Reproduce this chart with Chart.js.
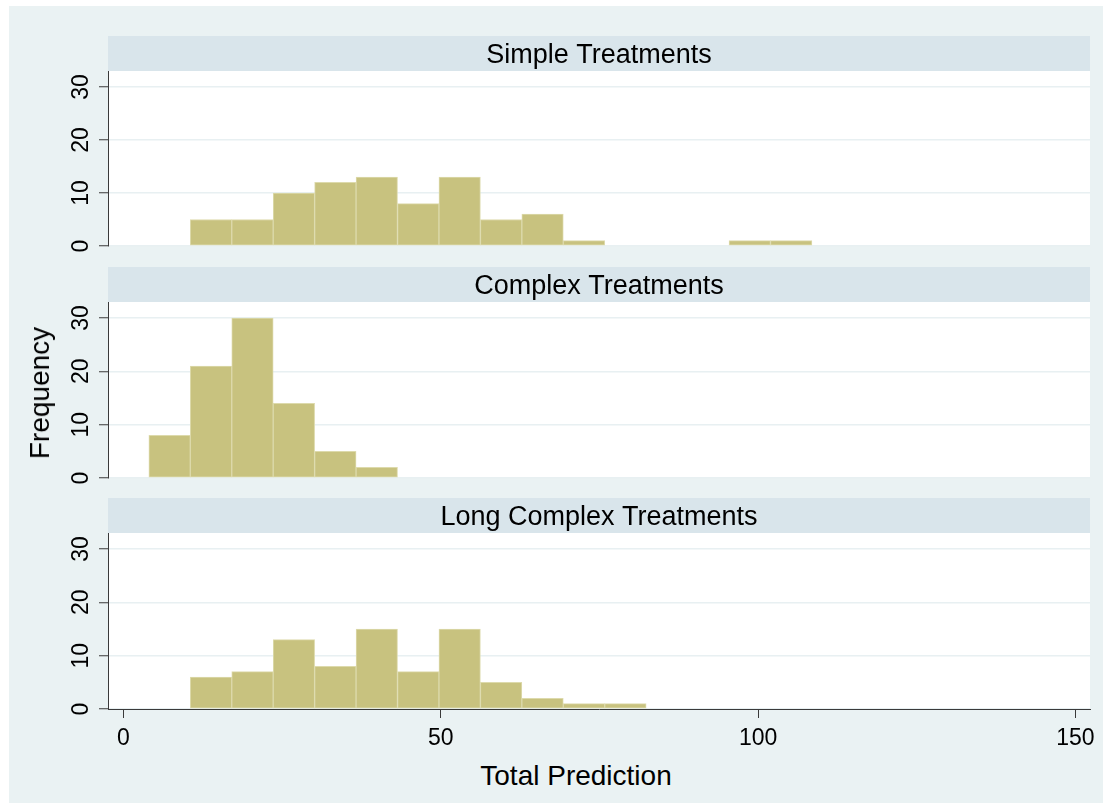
<!DOCTYPE html>
<html>
<head>
<meta charset="utf-8">
<script src="https://cdn.jsdelivr.net/npm/chart.js@4.4.0/dist/chart.umd.min.js"></script>
<style>
    html, body { margin: 0; padding: 0; background: #fff; }
    body { width: 1103px; height: 803px; position: relative; overflow: hidden; font-family: "Liberation Sans", Arial, sans-serif; }
    #graph { position: absolute; left: 9px; top: 6px; right: 0; bottom: 0; background: #eaf2f3; }
    .panel { position: absolute; left: 9px; width: 1094px; }
    .axis-title { position: absolute; font-size: 28px; line-height: 1; color: #000; white-space: nowrap; }
</style>
</head>
<body>
<div id="graph"></div>
<div class="panel" style="top:36px;height:225px"><canvas id="panelSimple"></canvas></div>
<div class="panel" style="top:267px;height:226px"><canvas id="panelComplex"></canvas></div>
<div class="panel" style="top:498px;height:261px"><canvas id="panelLong"></canvas></div>
<div class="axis-title" style="left:40px;top:393px;transform:translate(-50%,-50%) rotate(-90deg)">Frequency</div>
<div class="axis-title" style="left:576px;top:762px;transform:translateX(-50%)">Total Prediction</div>

<script>
// Histogram bins (Total Prediction), same for all three panels
const binStart = 4;
const binWidth = 6.53;

const panelTitles = ['Simple Treatments', 'Complex Treatments', 'Long Complex Treatments'];

// Frequencies per bin, null = empty bin
const simpleCounts  = [null, 5, 5, 10, 12, 13, 8, 13, 5, 6, 1, null, null, null, 1, 1];
const complexCounts = [8, 21, 30, 14, 5, 2, null, null, null, null, null, null, null, null, null, null];
const longCounts    = [null, 6, 7, 13, 8, 15, 7, 15, 5, 2, 1, 1, null, null, null, null];

const xTicks = [0, 50, 100, 150];
const yTicks = [0, 10, 20, 30];
const xRange = [-2.44, 152.3];
const yMax = 33;

const BAR_FILL = 'rgb(200, 194, 127)';
const BAR_EDGE = 'rgb(221, 218, 172)';
const STRIP = '#d9e5eb';
const AXIS = '#3a3a3a';
const GRID = '#e8f0f2';
const FONT = '"Liberation Sans", Arial, sans-serif';

// white plot region + title strip above it
const stripPlugin = {
    id: 'strip',
    beforeDraw(chart, args, opts) {
        const { ctx, chartArea: a } = chart;
        ctx.save();
        ctx.fillStyle = '#fff';
        ctx.fillRect(a.left, a.top, a.right - a.left, a.bottom - a.top);
        ctx.fillStyle = STRIP;
        ctx.fillRect(a.left, a.top - 35, a.right - a.left, 35);
        ctx.fillStyle = '#000';
        ctx.font = '27px ' + FONT;
        ctx.textAlign = 'center';
        ctx.textBaseline = 'alphabetic';
        ctx.fillText(opts.text, (a.left + a.right) / 2, a.top - 8);
        ctx.restore();
    }
};

function binData(counts) {
    return counts.map((c, i) => ({ x: binStart + (i + 0.5) * binWidth, y: c }));
}

function makePanel(canvasId, title, counts, showX) {
    const ctx = document.getElementById(canvasId).getContext('2d');
    return new Chart(ctx, {
        type: 'bar',
        data: {
            datasets: [{
                data: binData(counts),
                backgroundColor: BAR_FILL,
                borderColor: BAR_EDGE,
                borderWidth: 1,
                borderSkipped: false,
                categoryPercentage: 1,
                barPercentage: 1
            }]
        },
        plugins: [stripPlugin],
        options: {
            responsive: true,
            maintainAspectRatio: false,
            animation: false,
            // room below the hidden x axis so the "0" label is not cut off
            layout: { padding: { top: 35, right: 13, left: 0, bottom: showX ? 0 : 15 } },
            plugins: {
                legend: { display: false },
                tooltip: { enabled: false },
                strip: { text: title }
            },
            scales: {
                x: {
                    type: 'linear',
                    display: showX,
                    min: xRange[0],
                    max: xRange[1],
                    offset: false,
                    afterBuildTicks: (s) => { s.ticks = xTicks.map(v => ({ value: v })); },
                    afterFit: (s) => {
                        if (!showX) return;
                        s.height = 50;
                        s.paddingLeft = 0;
                        s.paddingRight = 0;
                    },
                    border: { display: true, color: AXIS, width: 1 },
                    grid: { offset: false, drawOnChartArea: false, drawTicks: true, tickLength: 9, tickColor: AXIS },
                    ticks: { color: '#000', font: { family: FONT, size: 23 }, padding: 7, maxRotation: 0, autoSkip: false }
                },
                y: {
                    min: 0,
                    max: yMax,
                    afterBuildTicks: (s) => { s.ticks = yTicks.map(v => ({ value: v })); },
                    afterFit: (s) => { s.width = 99; s.paddingTop = 0; s.paddingBottom = 0; },
                    border: { display: true, color: AXIS, width: 1 },
                    grid: { color: GRID, lineWidth: 1.5, tickLength: 9, tickColor: AXIS, tickWidth: 1 },
                    ticks: {
                        color: '#000',
                        font: { family: FONT, size: 23 },
                        minRotation: 90,
                        maxRotation: 90,
                        crossAlign: 'center',
                        padding: 5
                    }
                }
            }
        }
    });
}

makePanel('panelSimple', panelTitles[0], simpleCounts, false);
makePanel('panelComplex', panelTitles[1], complexCounts, false);
makePanel('panelLong', panelTitles[2], longCounts, true);
</script>
</body>
</html>
